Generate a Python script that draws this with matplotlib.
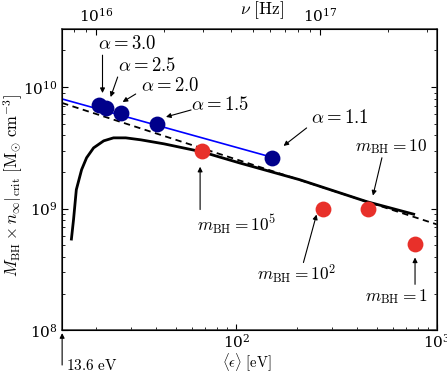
import numpy as np
import matplotlib
matplotlib.use("Agg")
import matplotlib.pyplot as plt

plt.rcParams["mathtext.fontset"] = "cm"
plt.rcParams["font.family"] = "serif"
plt.rcParams["font.serif"] = ["DejaVu Serif"]

# solid black curve (critical value vs mean energy)
curve_e = [15.1, 15.5, 16.0, 17.0, 18.0, 19.5, 21.9, 24.5, 28.2, 33.5, 43.7,
           67.6, 103.5, 206.5, 446.7, 776.0]
curve_m = [5.47e8, 8.13e8, 1.43e9, 2.09e9, 2.62e9, 3.16e9, 3.61e9, 3.82e9,
           3.82e9, 3.68e9, 3.41e9, 2.93e9, 2.38e9, 1.73e9, 1.14e9, 8.93e8]

# dashed power law
dash_e = [13.6, 1000.0]
dash_m = [7.4e9, 7.4e8]

# blue power-law line (spectral index sequence)
blue_e = [13.6, 150.0]
blue_m = [7.98e9, 2.65e9]

# power-law spectra points
alpha_labels = ["3.0", "2.5", "2.0", "1.5", "1.1"]
alpha_e = [20.7, 22.6, 26.6, 40.3, 150.0]
alpha_m = [7.1e9, 6.73e9, 6.12e9, 4.97e9, 2.62e9]

# black hole spectra points
mbh_labels = ["10^5", "10^2", "10", "1"]
mbh_e = [67.6, 269.0, 452.0, 776.0]
mbh_m = [2.98e9, 1.0e9, 1.0e9, 5.07e8]

fig = plt.figure(figsize=(4.47, 3.73), dpi=100)
ax = fig.add_axes([0.139, 0.115, 0.839, 0.807])

ax.plot(curve_e, curve_m, color="k", lw=2.0, solid_capstyle="butt", zorder=2)
ax.plot(dash_e, dash_m, color="k", lw=1.3, ls=(0, (3.5, 2.5)), zorder=2)
ax.plot(blue_e, blue_m, color="#0000ff", lw=1.2, zorder=3)
ax.scatter(alpha_e, alpha_m, s=130, color="#00008b", zorder=4, linewidths=0)
ax.scatter(mbh_e, mbh_m, s=130, color="#e8302a", zorder=4, linewidths=0)

ax.set_xscale("log")
ax.set_yscale("log")
ax.set_xlim(13.6, 1000)
ax.set_ylim(1e8, 3e10)

ax.tick_params(which="both", direction="in", top=False, right=True,
               labelsize=11)
ax.tick_params(axis="x", which="both", pad=2)
ax.tick_params(which="major", length=4)
ax.tick_params(which="minor", length=2.5)
for s in ax.spines.values():
    s.set_linewidth(1.1)
    s.set_color("#333333")

ax.set_xlabel(r"$\langle\epsilon\rangle\ [\mathrm{eV}]$", fontsize=10.5)
ax.xaxis.set_label_coords(0.493, -0.07)
ax.set_ylabel(r"$M_{\mathrm{BH}}\times n_{\infty}|_{\mathrm{crit}}\ "
              r"[\mathrm{M}_{\odot}\ \mathrm{cm}^{-3}]$", fontsize=12)
ax.yaxis.set_label_coords(-0.1, 0.48)

# top frequency axis
ax2 = ax.twiny()
ax2.set_xscale("log")
ax2.set_xlim(7.05e15, 3.33e17)
ax2.tick_params(which="both", direction="in", labelsize=11, pad=3.5)
ax2.tick_params(which="major", length=4)
ax2.tick_params(which="minor", length=2.5)
ax.text(0.533, 1.063, r"$\nu\ [\mathrm{Hz}]$", transform=ax.transAxes,
        ha="center", va="center", fontsize=12.5)

arrow = dict(arrowstyle="-|>", color="k", lw=0.8, mutation_scale=7,
             shrinkA=0, shrinkB=0)

# alpha annotations: text position, arrow tail, arrow tip
alpha_text = [(28.8, 2.25e10), (35.9, 1.49e10), (46.8, 1.02e10),
              (83.2, 7.11e9), (327, 5.57e9)]
alpha_tail = [(21.6, 1.83e10), (25.7, 1.21e10), (31.6, 8.77e9),
              (59.6, 6.48e9), (224, 4.61e9)]
alpha_tip = [(21.6, 8.93e9), (23.7, 8.28e9), (27.2, 7.54e9),
             (44.7, 5.68e9), (172, 3.28e9)]
for lab, t, a, b in zip(alpha_labels, alpha_text, alpha_tail, alpha_tip):
    ax.text(t[0], t[1], r"$\alpha=%s$" % lab, ha="center", va="center",
            fontsize=13.5)
    ax.annotate("", xy=b, xytext=a, arrowprops=arrow)

mbh_text = [(100, 7.39e8), (200, 2.88e8), (589, 3.22e9), (624, 1.9e8)]
mbh_tail = [(66.1, 9.82e8), (216, 3.6e8), (531, 2.62e9), (776, 2.38e8)]
mbh_tip = [(66.1, 2.21e9), (251, 8.93e8), (479, 1.28e9), (776, 3.96e8)]
for lab, t, a, b in zip(mbh_labels, mbh_text, mbh_tail, mbh_tip):
    ax.text(t[0], t[1], r"$m_{\mathrm{BH}}=%s$" % lab, ha="center",
            va="center", fontsize=12.5)
    ax.annotate("", xy=b, xytext=a, arrowprops=arrow)

# ionisation threshold marker below the axis
ax.annotate("", xy=(0.0, -0.01), xytext=(0.0, -0.116),
            xycoords="axes fraction", textcoords="axes fraction",
            arrowprops=arrow, annotation_clip=False)
ax.text(0.01, -0.116, r"$13.6\ \mathrm{eV}$", transform=ax.transAxes,
        ha="left", va="center", fontsize=11)

fig.savefig("out.png", dpi=100)
